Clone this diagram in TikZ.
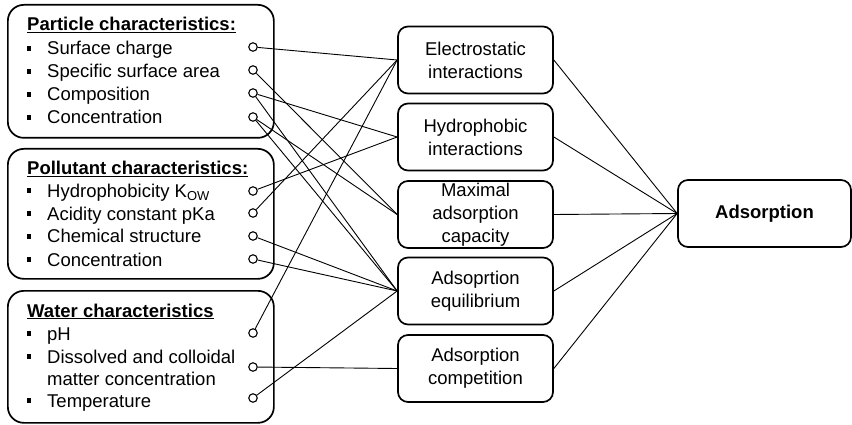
\documentclass[tikz,border=0pt]{standalone}
\usepackage{fontspec}
\setmainfont{Liberation Sans}
\begin{document}
\begin{tikzpicture}[x=1pt,y=-1pt,
  every node/.style={font=\fontsize{18.5}{23}\selectfont, inner sep=0pt},
  grp/.style={draw, line width=1.7pt, rounded corners=16pt, minimum width=266pt, minimum height=133pt, anchor=north west},
  mid/.style={draw, line width=1.7pt, rounded corners=10pt, minimum width=155pt, minimum height=67pt, align=center},
  item/.style={anchor=base west},
  bul/.style={fill, minimum size=4.8pt, inner sep=0pt},
  port/.style={draw, circle, minimum size=8.5pt, inner sep=0pt, line width=1.1pt, fill=white},
  link/.style={line width=0.9pt}]
\useasboundingbox (0,0) rectangle (852,425);

% group boxes
\node[grp] (g1) at (7,4) {};
\node[grp, minimum height=130pt] (g2) at (7,148) {};
\node[grp, minimum height=132pt] (g3) at (7,290) {};

% particle
\node[item] (t1) at (27,31) {\underline{\textbf{Particle characteristics:}}};
\node[bul] (b11) at (29,48.5) {};  \node[item] (i11) at (47,55) {Surface charge};
\node[bul] (b12) at (29,71.5) {};  \node[item] (i12) at (47,78) {Specific surface area};
\node[bul] (b13) at (29,94.5) {};  \node[item] (i13) at (47,101) {Composition};
\node[bul] (b14) at (29,117.5) {}; \node[item] (i14) at (47,124) {Concentration};

% pollutant
\node[item] (t2) at (27,175) {\underline{\textbf{Pollutant characteristics:}}};
\node[bul] (b21) at (29,190.5) {}; \node[item] (i21) at (47,197) {Hydrophobicity K\textsubscript{OW}};
\node[bul] (b22) at (29,213.5) {}; \node[item] (i22) at (47,220) {Acidity constant pKa};
\node[bul] (b23) at (29,236.5) {}; \node[item] (i23) at (47,243) {Chemical structure};
\node[bul] (b24) at (29,259.5) {}; \node[item] (i24) at (47,266) {Concentration};

% water
\node[item] (t3) at (27,317) {\underline{\textbf{Water characteristics}}};
\node[bul] (b31) at (29,333.5) {}; \node[item] (i31) at (47,340) {pH};
\node[bul] (b32) at (29,356.5) {}; \node[item] (i32) at (47,363) {Dissolved and colloidal};
                                   \node[item] (i33) at (47,385.5) {matter concentration};
\node[bul] (b34) at (29,400.5) {}; \node[item] (i34) at (47,407) {Temperature};

% middle boxes
\node[mid] (E) at (475.5,60) {Electrostatic\\interactions};
\node[mid] (H) at (475.5,137) {Hydrophobic\\interactions};
\node[mid] (M) at (475.5,214.5) {Maximal\\adsorption\\capacity};
\node[mid] (Q) at (475.5,291) {Adsoprtion\\equilibrium};
\node[mid] (C) at (475.5,368.5) {Adsorption\\competition};

% result
\node[mid, minimum width=173pt] (A) at (764.5,213.5) {\textbf{Adsorption}};

% ports
\node[port] (p11) at (253,47) {};
\node[port] (p12) at (253,70) {};
\node[port] (p13) at (253,93) {};
\node[port] (p14) at (253,117) {};
\node[port] (p21) at (253,191) {};
\node[port] (p22) at (253,213) {};
\node[port] (p23) at (253,236) {};
\node[port] (p24) at (253,259) {};
\node[port] (p31) at (253,333) {};
\node[port] (p32) at (253,367) {};
\node[port] (p34) at (253,398) {};

% links
\draw[link] (p11) -- (E.west);
\draw[link] (p12) -- (M.west);
\draw[link] (p13) -- (H.west);
\draw[link] (p13) -- (Q.west);
\draw[link] (p14) -- (M.west);
\draw[link] (p14) -- (Q.west);
\draw[link] (p21) -- (H.west);
\draw[link] (p22) -- (E.west);
\draw[link] (p23) -- (Q.west);
\draw[link] (p24) -- (Q.west);
\draw[link] (p31) -- (E.west);
\draw[link] (p32) -- (C.west);
\draw[link] (p34) -- (Q.west);

\foreach \m in {E,H,M,Q,C} \draw[link] (\m.east) -- (A.west);
\end{tikzpicture}
\end{document}
